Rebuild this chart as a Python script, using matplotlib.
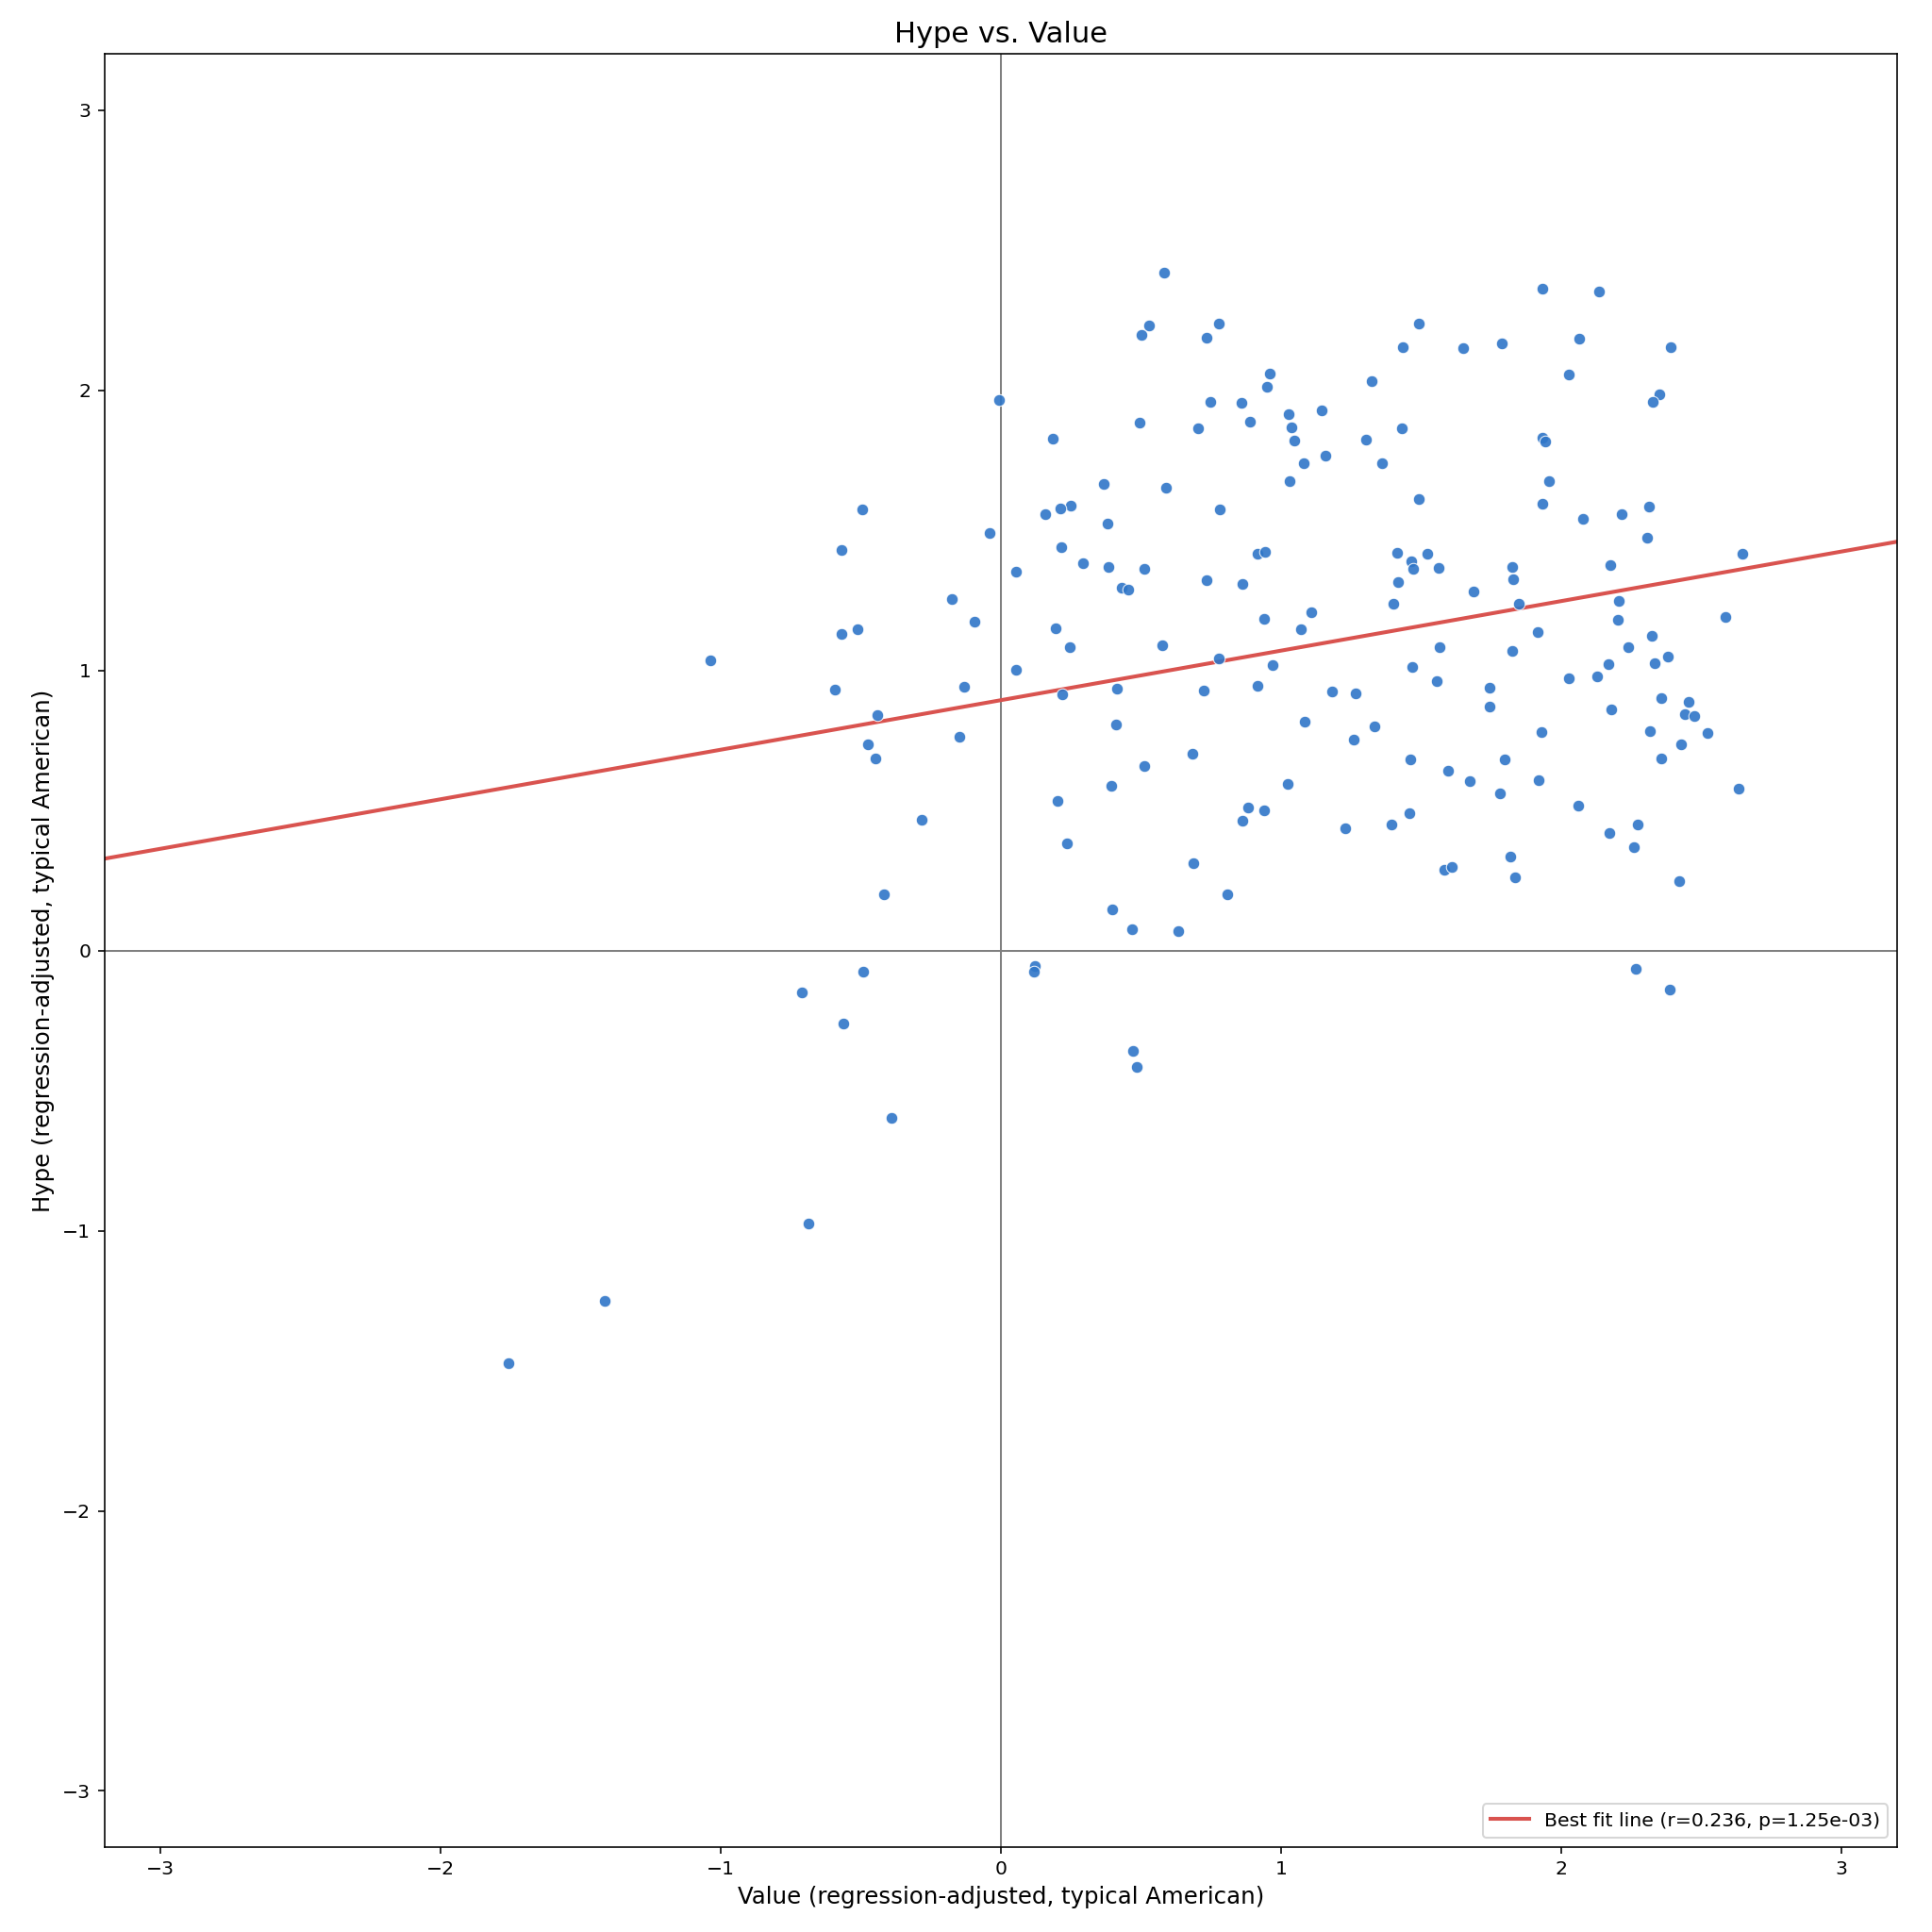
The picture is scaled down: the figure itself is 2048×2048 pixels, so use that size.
import numpy as np
import matplotlib
matplotlib.use("Agg")
import matplotlib.pyplot as plt

# values (value, hype)
value = [
    0.583, 0.528, 0.501, 0.777, 0.733, 0.960, 0.949, 1.324, -0.006, 0.749,
    0.858, 1.146, 1.028, 0.891, 0.497, 1.036, 0.703, 1.305, 1.047, 0.185,
    1.158, 1.083, 1.362, 1.032, 0.368, 0.590, 0.783, 0.249, 0.213, 0.158,
    0.380, -0.039, 0.216, 0.917, 0.944, 0.292, 0.384, 0.513, 0.054, 0.430,
    0.454, 0.733, 0.861, 1.110, 0.939, 1.072, 0.195, 0.246, 0.577, 0.777,
    0.969, 0.054,
    1.934, 2.136, 1.491, 1.436, 1.649, 1.787, 2.066, 2.391, 2.028, 2.351,
    2.326, 1.430, 1.933, 1.943, 1.956, 1.491, 1.934, 2.079, 2.216, 2.315,
    2.307, 1.415, 1.523, 1.466, 1.472, 1.562, 1.824, 1.830, 2.175, 2.648,
    1.417, 1.689, 1.403, 1.850, 2.207, 2.203, 2.588, 1.918, 2.325, 1.567,
    1.827, 2.241, 2.380, 2.168, 2.333, 1.468,
    0.218, 0.414, 0.726, 0.918, 1.184, 1.266, 0.412, 1.086, 1.335, 1.261,
    0.684, 0.511, 0.396, 1.023, 0.204, 0.882, 0.939, 0.861, 1.228, 0.235,
    0.689, 0.807, 0.398, 0.467, 0.634, 0.122, 0.119, 0.473, 0.486,
    1.557, 1.746, 1.746, 2.028, 2.129, 2.178, 2.359, 2.454, 2.443, 2.477,
    1.929, 2.317, 2.523, 2.429, 1.463, 1.800, 2.359, 1.595, 1.674, 1.920,
    1.782, 2.635, 1.458, 1.396, 2.060, 2.274, 2.172, 2.260, 1.820, 1.583,
    1.611, 1.836, 2.422, 2.268, 2.389,
    -0.496, -0.568, -0.176, -0.094, -0.511, -0.570, -1.036, -0.592, -0.132, -0.439,
    -0.149, -0.475, -0.448, -0.281, -0.418,
    -0.492, -0.709, -0.563, -0.389, -0.688, -1.413, -1.756,
]
hype = [
    2.419, 2.231, 2.199, 2.239, 2.186, 2.060, 2.014, 2.031, 1.965, 1.959,
    1.955, 1.927, 1.915, 1.888, 1.885, 1.869, 1.864, 1.823, 1.822, 1.826,
    1.765, 1.740, 1.738, 1.675, 1.667, 1.653, 1.576, 1.588, 1.577, 1.557,
    1.525, 1.492, 1.439, 1.418, 1.424, 1.382, 1.369, 1.363, 1.353, 1.295,
    1.289, 1.323, 1.310, 1.207, 1.184, 1.146, 1.152, 1.083, 1.091, 1.041,
    1.019, 1.003,
    2.362, 2.354, 2.239, 2.153, 2.149, 2.168, 2.184, 2.153, 2.056, 1.985,
    1.957, 1.864, 1.829, 1.817, 1.677, 1.612, 1.595, 1.540, 1.557, 1.584,
    1.475, 1.421, 1.416, 1.389, 1.363, 1.366, 1.369, 1.327, 1.376, 1.416,
    1.316, 1.281, 1.237, 1.237, 1.248, 1.182, 1.190, 1.136, 1.122, 1.083,
    1.070, 1.083, 1.049, 1.024, 1.026, 1.013,
    0.914, 0.935, 0.927, 0.944, 0.925, 0.917, 0.806, 0.818, 0.799, 0.752,
    0.701, 0.659, 0.588, 0.596, 0.533, 0.512, 0.501, 0.465, 0.438, 0.381,
    0.312, 0.200, 0.147, 0.076, 0.068, -0.056, -0.075, -0.359, -0.417,
    0.963, 0.939, 0.872, 0.971, 0.980, 0.862, 0.900, 0.887, 0.843, 0.838,
    0.779, 0.783, 0.775, 0.737, 0.681, 0.681, 0.684, 0.643, 0.605, 0.607,
    0.561, 0.578, 0.490, 0.449, 0.516, 0.451, 0.419, 0.369, 0.336, 0.287,
    0.297, 0.263, 0.248, -0.066, -0.140,
    1.573, 1.429, 1.256, 1.174, 1.147, 1.131, 1.037, 0.933, 0.941, 0.841,
    0.763, 0.736, 0.687, 0.468, 0.200,
    -0.076, -0.150, -0.259, -0.599, -0.974, -1.250, -1.474,
]
r_text = "0.236"
p_text = "1.25e-03"

x = np.array(value)
y = np.array(hype)
slope, intercept = np.polyfit(x, y, 1)

fig, ax = plt.subplots(figsize=(14, 14), dpi=2048 / 14)
ax.scatter(x, y, s=38, color="#2f76c8", alpha=0.9, edgecolor="white", linewidth=0.5, zorder=3)
ax.axhline(0, color="gray", linewidth=1, zorder=1)
ax.axvline(0, color="gray", linewidth=1, zorder=1)

xs = np.array([-3.2, 3.2])
ax.plot(xs, slope * xs + intercept, color="#d9534f", linewidth=2,
        label=f"Best fit line (r={r_text}, p={p_text})", zorder=2)

ax.set_xlim(-3.2, 3.2)
ax.set_ylim(-3.2, 3.2)
ax.set_title("Hype vs. Value", fontsize=15)
ax.set_xlabel("Value (regression-adjusted, typical American)", fontsize=12)
ax.set_ylabel("Hype (regression-adjusted, typical American)", fontsize=12)
ax.legend(loc="lower right", fontsize=10)

fig.subplots_adjust(left=0.054, right=0.982, top=0.972, bottom=0.044)
plt.savefig("out.png")
